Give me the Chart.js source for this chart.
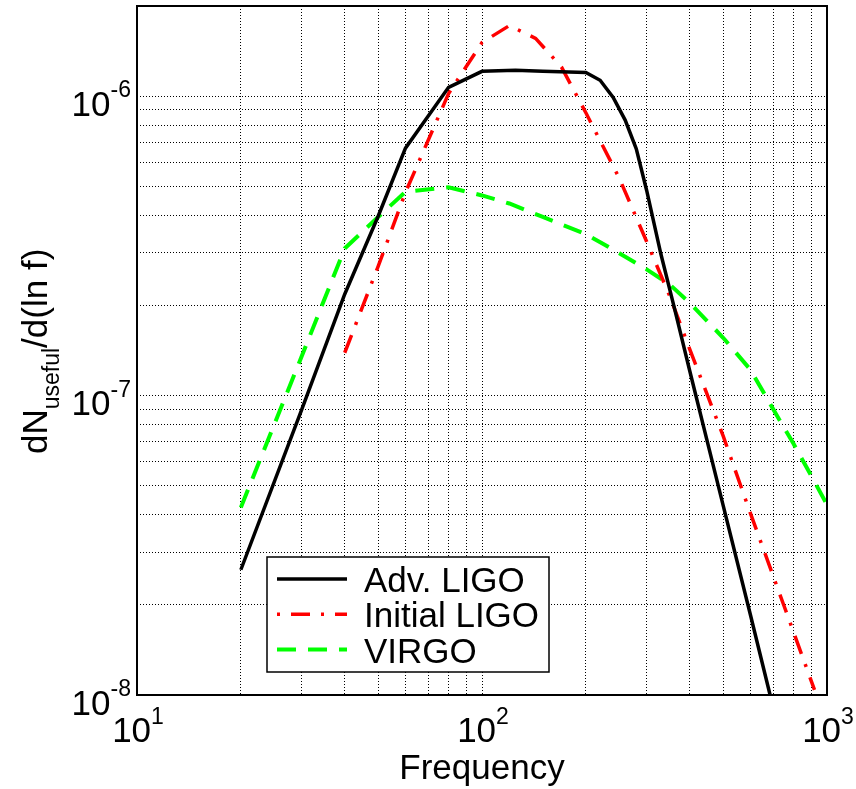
<!DOCTYPE html>
<html>
<head>
<meta charset="utf-8">
<script src="https://cdn.jsdelivr.net/npm/chart.js@4.4.1/dist/chart.umd.min.js"></script>
<style>
  html, body { margin: 0; padding: 0; background: #fff; }
  #wrap { width: 856px; height: 789px; }
</style>
</head>
<body>
<div id="wrap"><canvas id="chart" width="856" height="789"></canvas></div>
<script>
// Values (frequency in Hz, dN_useful/d(ln f))
const advLigoFreq = [20, 30, 40, 50, 60, 80, 100, 125, 150, 200, 220, 240, 260, 280, 300, 330, 360, 400, 500, 600, 684];
const advLigoVals = [2.62e-8, 8.96e-8, 2.18e-7, 3.97e-7, 6.7e-7, 1.07e-6, 1.21e-6, 1.22e-6, 1.21e-6, 1.2e-6, 1.13e-6,
                     9.9e-7, 8.32e-7, 6.67e-7, 4.85e-7, 2.97e-7, 1.99e-7, 1.21e-7, 4.3e-8, 1.85e-8, 1.0e-8];

const initLigoFreq = [40, 50, 60, 80, 100, 120, 143, 170, 200, 250, 300, 350, 400, 500, 600, 750, 920];
const initLigoVals = [1.39e-7, 2.7e-7, 4.77e-7, 1.02e-6, 1.51e-6, 1.72e-6, 1.56e-6, 1.25e-6, 8.8e-7, 5.32e-7,
                      3.27e-7, 2.15e-7, 1.43e-7, 7.33e-8, 4.04e-8, 1.99e-8, 1.04e-8];

const virgoFreq = [20, 30, 40, 50, 60, 80, 100, 120, 150, 200, 250, 300, 350, 400, 500, 600, 700, 800, 900, 1000];
const virgoVals = [4.23e-8, 1.35e-7, 3.1e-7, 3.95e-7, 4.79e-7, 4.96e-7, 4.66e-7, 4.38e-7, 3.95e-7, 3.46e-7,
                   2.99e-7, 2.64e-7, 2.35e-7, 2.04e-7, 1.56e-7, 1.22e-7, 8.96e-8, 6.9e-8, 5.4e-8, 4.32e-8];

// Axis decades and their exponent labels
const xMajor = [10, 100, 1000];
const xExponents = ['1', '2', '3'];
const yMajor = [1e-8, 1e-7, 1e-6];
const yExponents = ['-8', '-7', '-6'];

const FONT = "'Liberation Sans', Arial, Helvetica, sans-serif";
const BIG = '35px ' + FONT;
const SMALL = '23px ' + FONT;

function toPoints(xs, ys) {
  return xs.map((x, i) => ({ x: x, y: ys[i] }));
}

// 1..9 x 10^n grid positions between min and max
function logGridTicks(min, max) {
  const ticks = [];
  const lo = Math.floor(Math.log10(min));
  const hi = Math.ceil(Math.log10(max));
  for (let e = lo; e <= hi; e++) {
    for (let m = 1; m <= 9; m++) {
      const v = m * Math.pow(10, e);
      if (v >= min * 0.999 && v <= max * 1.001) ticks.push({ value: v });
    }
  }
  return ticks;
}

const overlay = {
  id: 'overlay',
  afterDraw(chart) {
    const { ctx, chartArea: a, scales } = chart;
    const xs = scales.x, ys = scales.y;
    ctx.save();

    // axes box
    ctx.strokeStyle = '#000';
    ctx.lineWidth = 2;
    ctx.setLineDash([]);
    ctx.strokeRect(a.left, a.top, a.right - a.left, a.bottom - a.top);

    ctx.fillStyle = '#000';
    ctx.textBaseline = 'alphabetic';

    // y tick labels 10^n
    yMajor.forEach((v, i) => {
      const py = ys.getPixelForValue(v);
      ctx.font = SMALL;
      const ws = ctx.measureText(yExponents[i]).width;
      ctx.textAlign = 'left';
      ctx.fillText(yExponents[i], a.left - 6 - ws, py + 1);
      ctx.font = BIG;
      ctx.textAlign = 'right';
      ctx.fillText('10', a.left - 6 - ws, py + 19.5);
    });

    // x tick labels 10^n
    xMajor.forEach((v, i) => {
      const px = xs.getPixelForValue(v);
      ctx.font = BIG;
      const wb = ctx.measureText('10').width;
      ctx.font = SMALL;
      const ws = ctx.measureText(xExponents[i]).width;
      const start = px - (wb + ws) / 2 + 1;
      ctx.textAlign = 'left';
      ctx.font = BIG;
      ctx.fillText('10', start, a.bottom + 47);
      ctx.font = SMALL;
      ctx.fillText(xExponents[i], start + wb, a.bottom + 29);
    });

    // x title
    ctx.font = BIG;
    ctx.textAlign = 'center';
    ctx.fillText('Frequency', (a.left + a.right) / 2, a.bottom + 84);

    // y title with subscript
    ctx.save();
    ctx.translate(47, 454);
    ctx.rotate(-Math.PI / 2);
    ctx.textAlign = 'left';
    let cx = 0;
    ctx.font = BIG;
    ctx.fillText('dN', cx, 0);
    cx += ctx.measureText('dN').width;
    ctx.font = SMALL;
    ctx.fillText('useful', cx, 12);
    cx += ctx.measureText('useful').width;
    ctx.font = BIG;
    ctx.fillText('/d(ln f)', cx, 0);
    ctx.restore();

    // legend box
    const lx = 267, ly = 557, lw = 282, lh = 115;
    ctx.fillStyle = '#fff';
    ctx.fillRect(lx, ly, lw, lh);
    ctx.strokeStyle = '#000';
    ctx.lineWidth = 1.5;
    ctx.strokeRect(lx, ly, lw, lh);
    chart.data.datasets.forEach((ds, i) => {
      const ry = ly + 22 + i * 35.3;
      ctx.save();
      ctx.strokeStyle = ds.borderColor;
      ctx.lineWidth = ds.borderWidth;
      ctx.setLineDash(ds.borderDash || []);
      ctx.lineDashOffset = ds.legendDashOffset || 0;
      ctx.beginPath();
      ctx.moveTo(lx + 10, ry);
      ctx.lineTo(lx + 80, ry);
      ctx.stroke();
      ctx.restore();
      ctx.fillStyle = '#000';
      ctx.font = BIG;
      ctx.textAlign = 'left';
      ctx.fillText(ds.label, lx + 97, ry + 13);
    });

    ctx.restore();
  }
};

const gridOpts = {
  color: '#000000',
  lineWidth: 1,
  drawTicks: false
};

new Chart(document.getElementById('chart').getContext('2d'), {
  type: 'line',
  data: {
    datasets: [
      {
        label: 'Adv. LIGO',
        data: toPoints(advLigoFreq, advLigoVals),
        borderColor: '#000000',
        borderWidth: 3.5,
        pointRadius: 0,
        tension: 0,
        fill: false
      },
      {
        label: 'Initial LIGO',
        data: toPoints(initLigoFreq, initLigoVals),
        borderColor: '#ff0000',
        borderWidth: 3.5,
        borderDash: [19, 11, 3, 11],
        legendDashOffset: 30,
        pointRadius: 0,
        tension: 0,
        fill: false
      },
      {
        label: 'VIRGO',
        data: toPoints(virgoFreq, virgoVals),
        borderColor: '#00ff00',
        borderWidth: 4,
        borderDash: [19, 12],
        pointRadius: 0,
        tension: 0,
        fill: false
      }
    ]
  },
  options: {
    responsive: false,
    animation: false,
    devicePixelRatio: 1,
    layout: { padding: { left: 137, top: 6, right: 29, bottom: 94 } },
    plugins: {
      legend: { display: false },
      tooltip: { enabled: false }
    },
    scales: {
      x: {
        type: 'logarithmic',
        min: 10,
        max: 1000,
        afterBuildTicks: (scale) => { scale.ticks = logGridTicks(10, 1000); },
        afterFit: (scale) => { scale.height = 0; },
        ticks: { display: false },
        grid: gridOpts,
        border: { display: false, dash: [1, 2] }
      },
      y: {
        type: 'logarithmic',
        min: 1e-8,
        max: 2e-6,
        afterBuildTicks: (scale) => { scale.ticks = logGridTicks(1e-8, 2e-6); },
        afterFit: (scale) => { scale.width = 0; },
        ticks: { display: false },
        grid: gridOpts,
        border: { display: false, dash: [1, 2] }
      }
    }
  },
  plugins: [overlay]
});
</script>
</body>
</html>
